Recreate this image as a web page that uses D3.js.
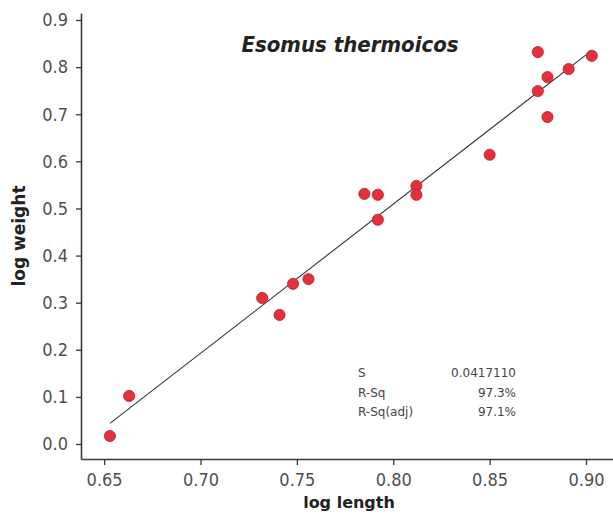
<!DOCTYPE html>
<html><head><meta charset="utf-8">
<script src="https://cdn.jsdelivr.net/npm/d3@7"></script>
<style>html,body{margin:0;padding:0;background:#fff;}</style>
</head><body>
<script>
const logLength = [0.653, 0.663, 0.732, 0.741, 0.748, 0.756, 0.785, 0.792, 0.792, 0.812, 0.812, 0.850, 0.875, 0.880, 0.891, 0.903, 0.875, 0.880];
const logWeight = [0.017, 0.102, 0.310, 0.274, 0.340, 0.350, 0.531, 0.529, 0.476, 0.548, 0.529, 0.614, 0.832, 0.779, 0.796, 0.824, 0.749, 0.694];
const xTicks = [0.65, 0.70, 0.75, 0.80, 0.85, 0.90];
const yTicks = [0.0, 0.1, 0.2, 0.3, 0.4, 0.5, 0.6, 0.7, 0.8, 0.9];
const statLabels = ["S", "R-Sq", "R-Sq(adj)"];
const statValues = ["0.0417110", "97.3%", "97.1%"];
const title = "Esomus thermoicos";

const W = 613, H = 516;
const svg = d3.select("body").append("svg").attr("width", W).attr("height", H);
const x = d3.scaleLinear().domain([0.638, 0.914]).range([81, 613]);
const y = d3.scaleLinear().domain([-0.0318, 0.9149]).range([459, 13]);

const axisColor = "#3a3a3a", labelColor = "#4f4f4f";
const gx = svg.append("g").attr("transform", "translate(0,459)")
  .call(d3.axisBottom(x).tickValues(xTicks).tickFormat(d3.format(".2f")).tickSize(6).tickSizeOuter(0));
const gy = svg.append("g").attr("transform", "translate(81,0)")
  .call(d3.axisLeft(y).tickValues(yTicks).tickFormat(d3.format(".1f")).tickSize(5).tickSizeOuter(0));
[gx, gy].forEach(g => {
  g.select(".domain").attr("stroke", axisColor).attr("stroke-width", 1.6);
  g.selectAll(".tick line").attr("stroke", axisColor).attr("stroke-width", 1.3);
  g.selectAll(".tick text").attr("fill", labelColor).style("font-family", "'DejaVu Sans Condensed', 'DejaVu Sans'").style("font-size", "18px");
});
gx.selectAll(".tick text").attr("y", 27).attr("dy", 0);
gy.selectAll(".tick text").attr("x", -13);

// regression line (least squares from data)
const mx = d3.mean(logLength), my = d3.mean(logWeight);
const b = d3.sum(logLength.map((v, i) => (v - mx) * (logWeight[i] - my))) / d3.sum(logLength.map(v => (v - mx) ** 2));
const a = my - b * mx;
const x0 = d3.min(logLength), x1 = d3.max(logLength);
svg.append("line").attr("x1", x(x0)).attr("y1", y(a + b * x0)).attr("x2", x(x1)).attr("y2", y(a + b * x1))
  .attr("stroke", "#333").attr("stroke-width", 1.1);

svg.append("g").selectAll("circle").data(logLength).join("circle")
  .attr("cx", d => x(d)).attr("cy", (d, i) => y(logWeight[i])).attr("r", 5.6)
  .attr("fill", "#e3303a").attr("stroke", "#b8222b").attr("stroke-width", 0.8);

svg.append("text").attr("x", 350).attr("y", 52).attr("text-anchor", "middle")
  .style("font-family", "'DejaVu Sans Condensed', 'DejaVu Sans'").style("font-weight", "bold").style("font-style", "italic")
  .style("font-size", "22px").attr("fill", "#222").text(title);

svg.append("text").attr("x", 349).attr("y", 508).attr("text-anchor", "middle")
  .style("font-family", "DejaVu Sans").style("font-weight", "bold").style("font-size", "16px")
  .attr("fill", "#222").text("log length");
svg.append("text").attr("transform", "translate(25,236) rotate(-90)").attr("text-anchor", "middle")
  .style("font-family", "DejaVu Sans").style("font-weight", "bold").style("font-size", "17px")
  .attr("fill", "#222").text("log weight");

const st = svg.append("g").style("font-family", "DejaVu Sans").style("font-size", "12px").attr("fill", "#444");
statLabels.forEach((s, i) => {
  st.append("text").attr("x", 358).attr("y", 377 + i * 19.5).text(s);
  st.append("text").attr("x", 516).attr("y", 377 + i * 19.5).attr("text-anchor", "end").text(statValues[i]);
});
</script>
</body></html>
